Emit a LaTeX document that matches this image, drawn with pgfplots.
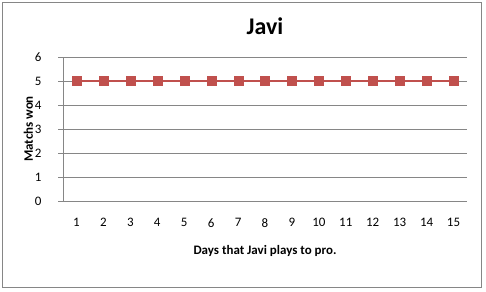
\documentclass[border=0pt]{standalone}
\usepackage{pgfplots}
\pgfplotsset{compat=1.18}
\usepackage{fontspec}
\setmainfont{Carlito}
\definecolor{exred}{HTML}{C0504D}
\definecolor{gridgray}{HTML}{868686}
\begin{document}
\begin{tikzpicture}[x=1bp,y=1bp]
\path[use as bounding box] (0,0) rectangle (486,291);
\draw[gridgray, line width=0.8bp] (2.5,3.5) rectangle (481.5,288.5);
\begin{axis}[
  at={(63bp,90bp)}, anchor=south west,
  scale only axis, width=404bp, height=144bp,
  xmin=0.5, xmax=15.5, ymin=0, ymax=6,
  xtick={1,...,15}, ytick={0,...,6},
  axis lines*=left, axis line style={-, gridgray, line width=0.8bp},
  ymajorgrids, grid style={gridgray, line width=0.8bp},
  major tick length=5bp,
  xtick style={draw=none},
  ytick style={gridgray, line width=0.8bp},
  tick align=outside,
  /pgf/number format/assume math mode=true,
  tick label style={font=\fontsize{13}{15}\selectfont},
  xticklabel style={yshift=-9bp},
  yticklabel style={xshift=-13bp},
  title={Javi},
  title style={at={(axis description cs:0.5,1)}, anchor=center, yshift=25bp, font=\bfseries\fontsize{24}{28}\selectfont},
  xlabel={Days that Javi plays to pro.},
  xlabel style={at={(axis description cs:0.5,0)}, anchor=center, yshift=-50bp, font=\bfseries\fontsize{13}{15}\selectfont},
  ylabel={Matchs won},
  ylabel style={at={(axis description cs:-0.086,0.5)}, anchor=center, font=\bfseries\fontsize{13}{15}\selectfont},
  clip=false,
]
\addplot[exred, line width=2.8bp, mark=square*, mark size=4.5bp, mark options={fill=exred, draw=exred, line width=0.1bp}]
  coordinates {(1,5) (2,5) (3,5) (4,5) (5,5) (6,5) (7,5) (8,5) (9,5) (10,5) (11,5) (12,5) (13,5) (14,5) (15,5)};
\end{axis}
\end{tikzpicture}
\end{document}
